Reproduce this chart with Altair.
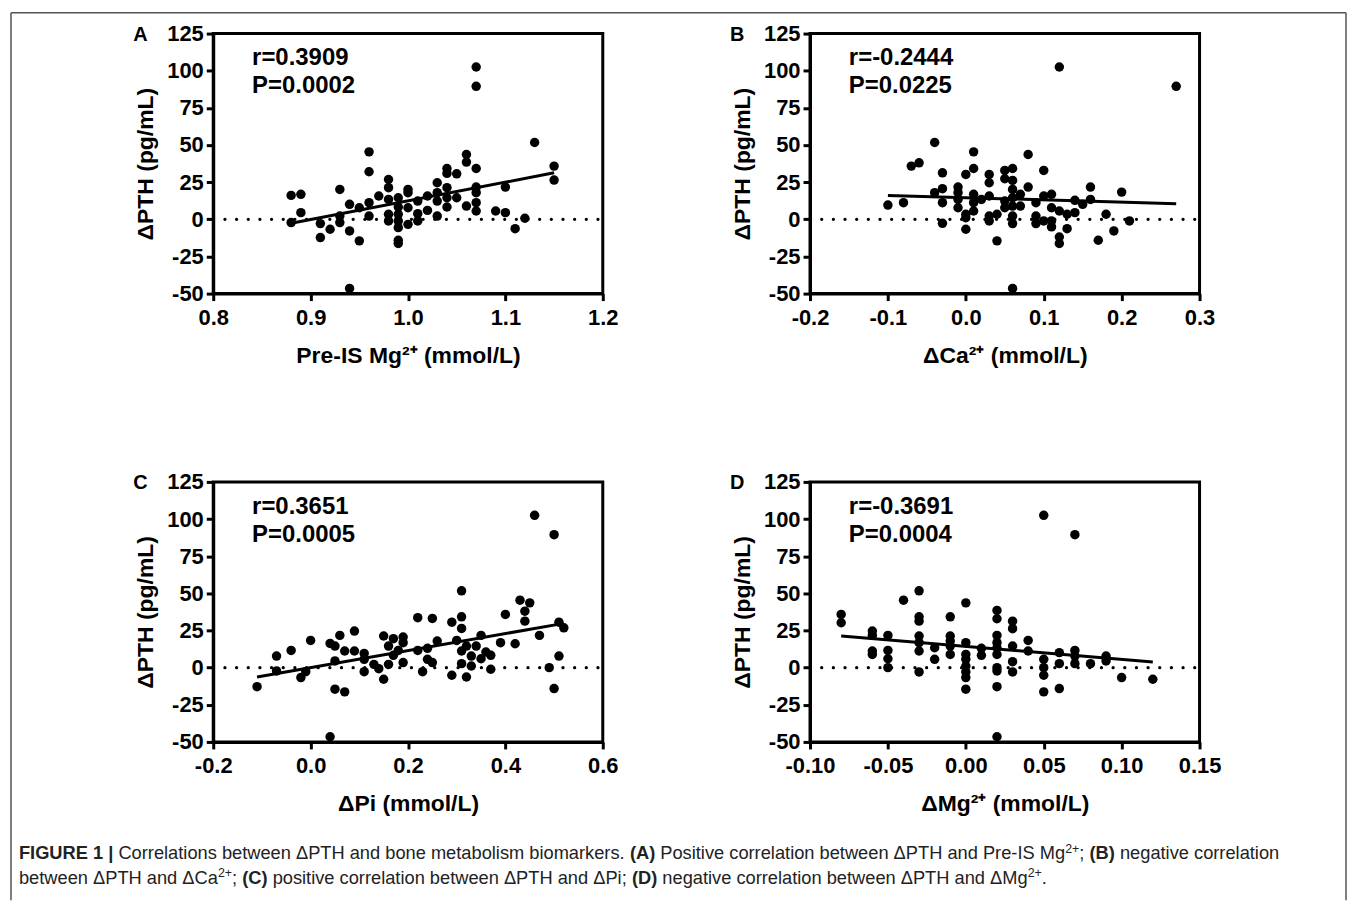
import altair as alt
import pandas as pd

FONT = "Liberation Sans"

# ---------------- data ----------------
a_x = [1.07, 1.07, 1.13, 1.15, 1.15, 0.96, 0.96, 1.06, 1.06, 1.07, 1.04, 1.04, 1.05, 1.03, 1.04, 1.07,
       1.07, 1.07, 1.07, 1.06, 1.05, 1.04, 1.04, 1.03, 1.03, 1.03, 1.02, 1.02, 1.01, 1.01, 1.00, 1.00,
       1.00, 1.00, 0.99, 0.99, 0.99, 0.99, 0.99, 0.99, 0.99, 0.98, 0.98, 0.98, 0.98, 0.98, 0.97, 0.96,
       0.96, 0.95, 0.95, 0.94, 0.94, 0.94, 0.93, 0.93, 0.93, 0.92, 0.91, 0.91, 0.89, 0.89, 0.88, 0.88,
       1.09, 1.10, 1.10, 1.11, 1.12, 1.01]
a_y = [102.5, 89.5, 51.7, 35.8, 26.4, 45.4, 32.0, 43.6, 38.5, 34.2, 34.2, 30.9, 30.6, 24.6, 21.3, 21.7,
       17.9, 11.2, 5.6, 8.9, 14.5, 14.5, 8.3, 17.9, 12.3, 2.2, 15.7, 6.0, 12.3, 3.8, 20.1, 17.9,
       7.8, -3.4, 14.5, 8.3, 3.4, -1.1, -5.6, -14.1, -16.3, 26.8, 21.3, 13.4, 3.4, -1.1, 15.7, 11.2,
       2.2, 7.8, -14.5, 10.1, -7.8, -46.5, 20.1, 2.2, -2.2, -6.7, -2.9, -12.3, 16.8, 4.5, 16.1, -2.2,
       5.6, 21.7, 4.5, -6.3, 0.7, -1.1]
a_fit_x = [0.88, 1.15]
a_fit_y = [-2.7, 31.3]

b_x = [0.12, 0.27, -0.04, 0.01, 0.08, -0.07, -0.06, -0.03, 0.00, 0.01, 0.03, 0.03, 0.05, 0.06, 0.05, 0.06,
       0.10, 0.06, 0.08, -0.03, -0.04, -0.01, -0.01, -0.01, -0.01, 0.01, 0.01, 0.01, 0.00, 0.00, 0.00, 0.02,
       0.03, 0.03, 0.03, 0.04, 0.04, 0.05, 0.05, 0.06, 0.06, 0.06, 0.06, 0.06, 0.07, 0.07, 0.09, 0.09,
       0.09, 0.10, 0.10, 0.11, 0.11, 0.11, 0.11, 0.12, 0.12, 0.12, 0.13, 0.13, 0.14, 0.14, 0.15, 0.16,
       0.16, 0.17, 0.18, 0.19, 0.20, 0.21, -0.10, -0.08, -0.03, -0.03]
b_y = [102.5, 89.5, 51.7, 45.4, 43.6, 35.8, 38.0, 31.3, 30.2, 34.2, 30.2, 24.6, 32.9, 34.2, 27.3, 26.2,
       32.9, 20.1, 21.7, 20.6, 17.9, 21.7, 17.9, 13.4, 7.8, 16.8, 11.2, 5.6, 3.4, 1.1, -6.7, 13.4,
       15.7, 2.2, -1.1, 3.4, -14.5, 12.3, 7.8, 14.5, 8.9, 2.2, -2.9, -46.5, 16.8, 8.9, 11.2, 2.2,
       -2.9, 15.7, -1.1, 16.8, 7.8, -1.1, -5.1, 5.6, -11.9, -16.3, 3.4, -6.3, 12.8, 4.5, 10.1, 21.7,
       13.4, -14.1, 3.4, -7.8, 18.3, -1.1, 9.6, 11.2, 11.2, -2.7]
b_fit_x = [-0.10, 0.27]
b_fit_y = [16.1, 10.5]

c_x = [0.46, 0.50, 0.31, 0.43, 0.45, 0.44, 0.44, 0.40, 0.31, 0.31, 0.22, 0.25, 0.29, 0.51, 0.52, 0.47,
       0.42, 0.39, 0.35, 0.30, 0.32, 0.34, 0.36, 0.37, 0.37, 0.31, 0.31, 0.33, 0.32, 0.29, 0.33, 0.35,
       0.26, 0.24, 0.24, 0.25, 0.22, 0.23, 0.19, 0.17, 0.15, 0.16, 0.18, 0.19, 0.19, 0.17, 0.16, 0.15,
       0.14, 0.13, 0.11, 0.11, 0.11, 0.09, 0.09, 0.07, 0.06, 0.05, 0.04, 0.05, 0.05, 0.07, 0.04, 0.00,
       -0.02, -0.01, -0.04, -0.07, -0.07, -0.11, 0.49, 0.51, 0.50]
c_y = [102.5, 89.5, 51.7, 45.4, 43.6, 38.0, 31.3, 35.8, 34.2, 26.4, 33.6, 33.1, 30.6, 30.6, 26.8, 21.7,
       16.1, 16.8, 21.7, 18.3, 14.5, 14.5, 10.5, 8.3, -1.1, 11.2, 2.7, 1.1, -6.3, -5.1, 7.8, 6.0,
       17.9, 13.0, 5.6, 3.4, 11.6, -2.7, 20.6, 19.5, 21.3, 14.5, 11.6, 16.8, 3.4, 8.3, 2.2, -7.8,
       -0.7, 2.2, 5.6, 9.6, -2.7, 24.6, 11.2, 11.2, 21.7, 14.5, 16.3, 4.5, -14.5, -16.3, -46.5, 18.3,
       -6.7, -2.7, 11.6, 7.8, -2.2, -12.8, 0.0, 7.8, -14.1]
c_fit_x = [-0.11, 0.52]
c_fit_y = [-6.3, 29.8]

d_x = [-0.08, -0.08, -0.06, -0.06, -0.06, -0.06, -0.05, -0.05, -0.05, -0.05, -0.04,
       -0.03, -0.03, -0.03, -0.03, -0.03, -0.03, -0.03, -0.02, -0.02,
       -0.01, -0.01, -0.01, -0.01, -0.01,
       0.00, 0.00, 0.00, 0.00, 0.00, 0.00, 0.00, 0.00, 0.01, 0.01,
       0.02, 0.02, 0.02, 0.02, 0.02, 0.02, 0.02, 0.02, 0.02, 0.02,
       0.03, 0.03, 0.03, 0.03, 0.03, 0.04, 0.04,
       0.05, 0.05, 0.05, 0.05, 0.05, 0.06, 0.06, 0.06, 0.07, 0.07, 0.07, 0.07,
       0.08, 0.09, 0.09, 0.10, 0.12]
d_y = [35.8, 30.2, 24.6, 21.7, 11.2, 8.9, 21.7, 11.6, 6.0, 0.0, 45.4,
       51.7, 34.2, 31.3, 21.3, 16.8, 11.2, -2.9, 13.4, 5.6,
       34.2, 21.3, 17.9, 14.5, 8.9,
       43.6, 16.8, 8.9, 5.6, 1.1, -2.9, -6.7, -14.5, 13.0, 8.3,
       38.5, 32.9, 21.7, 16.8, 13.4, 8.9, 0.0, -2.2, -12.8, -46.5,
       31.3, 26.2, 14.5, 4.0, -2.9, 18.3, 11.2,
       102.5, 5.6, 0.0, -5.1, -16.3, 10.1, 2.7, -14.1, 89.5, 11.6, 7.8, 2.7,
       2.7, 7.8, 4.5, -6.7, -7.8]
d_fit_x = [-0.08, 0.12]
d_fit_y = [21.3, 3.8]

y_ticks = [-50, -25, 0, 25, 50, 75, 100, 125]
y_domain = [-50, 125]
y_title = "ΔPTH (pg/mL)"

panels = [
    dict(label="A", x=a_x, y=a_y, fx=a_fit_x, fy=a_fit_y, dom=[0.8, 1.2],
         ticks=[0.8, 0.9, 1.0, 1.1, 1.2], dec=".1f", title="Pre-IS Mg²⁺ (mmol/L)",
         r="r=0.3909", p="P=0.0002"),
    dict(label="B", x=b_x, y=b_y, fx=b_fit_x, fy=b_fit_y, dom=[-0.2, 0.3],
         ticks=[-0.2, -0.1, 0.0, 0.1, 0.2, 0.3], dec=".1f", title="ΔCa²⁺ (mmol/L)",
         r="r=-0.2444", p="P=0.0225"),
    dict(label="C", x=c_x, y=c_y, fx=c_fit_x, fy=c_fit_y, dom=[-0.2, 0.6],
         ticks=[-0.2, 0.0, 0.2, 0.4, 0.6], dec=".1f", title="ΔPi (mmol/L)",
         r="r=0.3651", p="P=0.0005"),
    dict(label="D", x=d_x, y=d_y, fx=d_fit_x, fy=d_fit_y, dom=[-0.10, 0.15],
         ticks=[-0.10, -0.05, 0.0, 0.05, 0.10, 0.15], dec=".2f", title="ΔMg²⁺ (mmol/L)",
         r="r=-0.3691", p="P=0.0004"),
]

caption_lines = [
    [("FIGURE 1 |", "b"), (" Correlations between ΔPTH and bone metabolism biomarkers. ", "r"),
     ("(A)", "b"), (" Positive correlation between ΔPTH and Pre-IS Mg", "r"), ("2+", "s"),
     ("; ", "r"), ("(B)", "b"), (" negative correlation", "r")],
    [("between ΔPTH and ΔCa", "r"), ("2+", "s"), ("; ", "r"), ("(C)", "b"),
     (" positive correlation between ΔPTH and ΔPi; ", "r"), ("(D)", "b"),
     (" negative correlation between ΔPTH and ΔMg", "r"), ("2+", "s"), (".", "r")],
]

# ---------------- layout ----------------
W, H = 391, 261
HSP, VSP = 208, 189

REG = {' ': 278, '(': 333, ')': 333, '+': 584, ',': 278, '-': 333, '.': 278, '/': 278, ';': 278,
       '|': 260, 'Δ': 668,
       'A': 667, 'B': 667, 'C': 722, 'D': 722, 'E': 667, 'F': 611, 'G': 778, 'H': 722, 'I': 278,
       'L': 556, 'M': 833, 'P': 667, 'R': 722, 'S': 667, 'T': 611, 'U': 722,
       'a': 556, 'b': 556, 'c': 500, 'd': 556, 'e': 556, 'f': 278, 'g': 556, 'h': 556, 'i': 222,
       'j': 222, 'k': 500, 'l': 222, 'm': 833, 'n': 556, 'o': 556, 'p': 556, 'q': 556, 'r': 333,
       's': 500, 't': 278, 'u': 556, 'v': 500, 'w': 722, 'x': 500, 'y': 500, 'z': 500}
BOLD = {' ': 278, '(': 333, ')': 333, '|': 280, 'A': 722, 'B': 722, 'C': 722, 'D': 722,
        'E': 667, 'F': 611, 'G': 778, 'I': 278, 'R': 722, 'U': 722}
SUP = 0.68


def units(s, style):
    if style == "b":
        return sum(BOLD.get(ch, 556) for ch in s)
    u = sum(REG.get(ch, 556) for ch in s)
    return u * SUP if style == "s" else u


line_units = sum(units(s, st) for s, st in caption_lines[0])
CAP_FS = 1265.0 / line_units * 1000.0
CAP_X0 = -195
CAP_Y = [829, 854]

# border (relative to panel A's plot origin)
BL, BT, BR, BB = -203, -21, 1137, 870

one = pd.DataFrame({"k": [0]})


def caption_layers():
    layers = []
    for li, line in enumerate(caption_lines):
        px = CAP_X0
        for seg, st in line:
            lead = len(seg) - len(seg.lstrip(" "))
            txt = seg.strip(" ")
            x0 = px + units(" " * lead, "r") * CAP_FS / 1000.0
            fs = CAP_FS * (SUP if st == "s" else 1.0)
            y = CAP_Y[li] - (CAP_FS * 0.38 if st == "s" else 0)
            if txt:
                layers.append(
                    alt.Chart(one).mark_text(
                        text=txt, align="left", baseline="alphabetic", font=FONT,
                        fontSize=fs, fontWeight="bold" if st == "b" else "normal",
                        color="#222222",
                    ).encode(x=alt.value(x0), y=alt.value(y))
                )
            px += units(seg, st) * CAP_FS / 1000.0
    return layers


def border_layers():
    st = dict(color="#555555", strokeWidth=1.5)
    return [
        alt.Chart(one).mark_rule(**st).encode(x=alt.value(BL), y=alt.value(BT), y2=alt.value(BB)),
        alt.Chart(one).mark_rule(**st).encode(x=alt.value(BL), x2=alt.value(BR), y=alt.value(BT)),
        alt.Chart(one).mark_rule(**st).encode(x=alt.value(BR), y=alt.value(BT), y2=alt.value(BB)),
    ]


def panel(p, extra=None):
    xenc = alt.X("x:Q", scale=alt.Scale(domain=p["dom"], nice=False, zero=False),
                 axis=alt.Axis(values=p["ticks"], title=p["title"],
                               labelExpr="(datum.value < -1e-9 ? '-' : '') + format(abs(datum.value), '%s')" % p["dec"]))
    yenc = alt.Y("y:Q", scale=alt.Scale(domain=y_domain, nice=False, zero=False),
                 axis=alt.Axis(values=y_ticks, title=y_title, labelPadding=3, titlePadding=9,
                               labelExpr="(datum.value < 0 ? '-' : '') + format(abs(datum.value), 'd')"))
    pts = pd.DataFrame({"x": p["x"], "y": p["y"]})
    fit = pd.DataFrame({"x": p["fx"], "y": p["fy"]})
    zero = pd.DataFrame({"x": p["dom"], "y": [0, 0]})

    zl = alt.Chart(zero).mark_line(color="black", strokeWidth=3.2, strokeDash=[0.1, 11.6],
                                   strokeCap="round").encode(x=xenc, y=yenc)
    fl = alt.Chart(fit).mark_line(color="black", strokeWidth=3).encode(x=xenc, y=yenc)
    pl = alt.Chart(pts).mark_circle(size=90, color="black", opacity=1).encode(x=xenc, y=yenc)
    tstyle = dict(align="left", baseline="middle", font=FONT, fontSize=24, fontWeight="bold",
                  color="black")
    rt = alt.Chart(one).mark_text(text=p["r"], **tstyle).encode(x=alt.value(39), y=alt.value(25))
    pt = alt.Chart(one).mark_text(text=p["p"], **tstyle).encode(x=alt.value(39), y=alt.value(53))
    lab = alt.Chart(one).mark_text(text=p["label"], align="center", baseline="middle", font=FONT,
                                   fontSize=20, fontWeight="bold", color="black").encode(
        x=alt.value(-73), y=alt.value(1))
    layers = [zl, pl, fl, rt, pt, lab] + (extra or [])
    return alt.layer(*layers).properties(width=W, height=H)


A = panel(panels[0], border_layers() + caption_layers())
B = panel(panels[1])
C = panel(panels[2])
D = panel(panels[3])

chart = alt.concat(A, B, C, D, columns=2, spacing={"row": VSP, "column": HSP},
                   bounds="flush").properties(
    padding={"left": 0, "top": 0, "right": 0, "bottom": 0}, background="white"
).configure_view(
    stroke="black", strokeWidth=3
).configure_axis(
    grid=False, domainColor="black", domainWidth=3, tickColor="black", tickWidth=3, tickSize=7,
    labelFont=FONT, labelFontSize=22, labelFontWeight="bold", labelColor="black", labelPadding=7,
    labelOverlap=False, labelFlush=False,
    titleFont=FONT, titleFontSize=23, titleFontWeight="bold", titleColor="black", titlePadding=16,
)

chart.save("out.html", embed_options={"renderer": "svg", "actions": False, "padding": 0})
